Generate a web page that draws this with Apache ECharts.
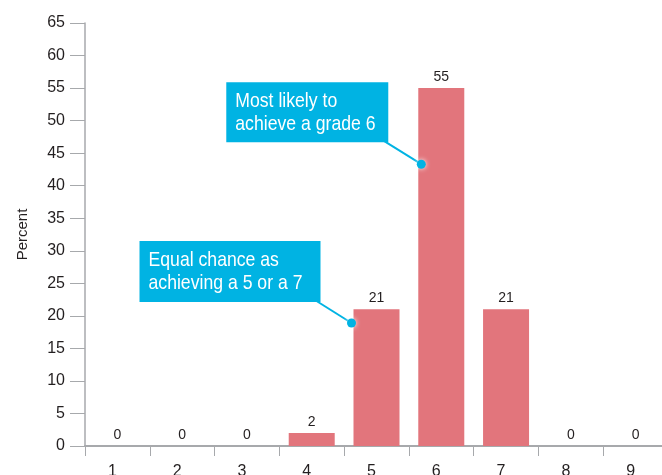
<!DOCTYPE html>
<html>
<head>
<meta charset="utf-8">
<script src="https://cdn.jsdelivr.net/npm/echarts@6/dist/echarts.min.js"></script>
<style>
  html, body { margin: 0; padding: 0; background: #fff; }
  #chart { width: 662px; height: 475px; }
</style>
</head>
<body>
<div id="chart"></div>
<script>
// Grade categories and the percentage chance of each
const grades = ['1', '2', '3', '4', '5', '6', '7', '8', '9'];
const percents = [0, 0, 0, 2, 21, 55, 21, 0, 0];
const yTicks = { min: 0, max: 65, interval: 5 };

// Callout notes: text lines, the grade they point at and the height of the pointer dot
const calloutTexts = [
  ['Most likely to', 'achieve a grade 6'],
  ['Equal chance as', 'achieving a 5 or a 7']
];
const calloutGrades = ['6', '5'];
const calloutValues = [43.3, 18.9];

const BAR_COLOR = '#e2757c';
const NOTE_COLOR = '#00b3e3';
const TEXT_COLOR = '#231f20';
const AXIS_COLOR = '#a7a9ac';
const BAR_WIDTH = 46;
const FONT = 'Liberation Sans, Arial, Helvetica, sans-serif';

const chart = echarts.init(document.getElementById('chart'), null, { renderer: 'canvas' });

chart.setOption({
  animation: false,
  // the plot runs a little past the right edge of the page
  grid: {
    left: 85, top: 23, width: 583, height: 423,
    containLabel: false, outerBoundsMode: 'none'
  },
  xAxis: {
    type: 'category',
    data: grades,
    boundaryGap: true,
    axisLine: { show: true, lineStyle: { color: AXIS_COLOR, width: 2 } },
    axisTick: { show: true, length: 10, lineStyle: { color: AXIS_COLOR, width: 1 } },
    axisLabel: {
      color: TEXT_COLOR, fontSize: 16, fontFamily: FONT,
      margin: 18, padding: [0, 10, 0, 0]
    },
    splitLine: { show: false }
  },
  yAxis: {
    type: 'value',
    min: yTicks.min, max: yTicks.max, interval: yTicks.interval,
    name: 'Percent',
    nameLocation: 'middle',
    nameRotate: 90,
    nameGap: 55,
    nameTextStyle: { color: TEXT_COLOR, fontSize: 15, fontFamily: FONT },
    axisLine: { show: true, lineStyle: { color: AXIS_COLOR, width: 1.5 } },
    axisTick: { show: true, length: 15, lineStyle: { color: AXIS_COLOR, width: 1 } },
    axisLabel: { color: TEXT_COLOR, fontSize: 16, fontFamily: FONT, margin: 20 },
    splitLine: { show: false }
  },
  series: [{
    type: 'bar',
    data: percents,
    barWidth: BAR_WIDTH,
    itemStyle: { color: BAR_COLOR },
    label: {
      show: true, position: 'top', distance: 4,
      color: TEXT_COLOR, fontSize: 14, fontFamily: FONT
    }
  }]
});

// Callout layout: dot offset from the bar's left edge, box offset from the dot, box size
const dotShiftX = [3, -2];
const boxOffsets = [[-195, -82], [-212, -82]];
const boxSizes = [[162, 60], [181, 61]];
const graphics = [];
calloutTexts.forEach(function (lines, i) {
  const p = chart.convertToPixel({ gridIndex: 0 }, [calloutGrades[i], calloutValues[i]]);
  const dotX = p[0] - BAR_WIDTH / 2 + dotShiftX[i];
  const dotY = p[1];
  const bx = dotX + boxOffsets[i][0];
  const by = dotY + boxOffsets[i][1];
  const bw = boxSizes[i][0];
  const bh = boxSizes[i][1];
  graphics.push({
    type: 'line', z: 10,
    shape: { x1: bx + bw - 4, y1: by + bh - 1, x2: dotX, y2: dotY },
    style: { stroke: NOTE_COLOR, lineWidth: 2 }
  });
  graphics.push({
    type: 'rect', z: 11,
    shape: { x: bx, y: by, width: bw, height: bh },
    style: { fill: NOTE_COLOR }
  });
  // condensed white lettering
  graphics.push({
    type: 'text', z: 12,
    x: bx + 9, y: by + 7,
    scaleX: 0.84,
    style: {
      text: lines.join('\n'),
      fill: '#fff',
      font: '21px ' + FONT,
      lineHeight: 23.5
    }
  });
  graphics.push({
    type: 'circle', z: 12,
    shape: { cx: dotX, cy: dotY, r: 4.5 },
    style: { fill: NOTE_COLOR, shadowBlur: 5, shadowColor: 'rgba(255,255,255,0.95)' }
  });
});
chart.setOption({ graphic: graphics });
</script>
</body>
</html>
